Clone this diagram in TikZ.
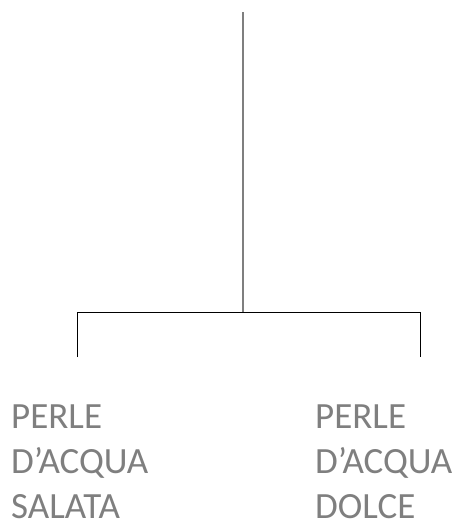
\documentclass[tikz,border=0pt]{standalone}
\usepackage{fontspec}
\setmainfont{Carlito}
\definecolor{txtgray}{HTML}{7F7F7F}
\definecolor{stemgray}{HTML}{7F7F7F}
\tikzset{
  label/.style={anchor=base west, inner sep=0pt, align=left, text=txtgray,
    font=\fontsize{37}{45}\selectfont},
  stem/.style={draw=stemgray, line width=1.3pt},
  branch/.style={draw=black, line width=1pt},
}
\begin{document}
\begin{tikzpicture}[x=1pt,y=-1pt]
\useasboundingbox (0,0) rectangle (459,520);
\coordinate (top) at (243,12);
\coordinate (hub) at (243,312.3);
\coordinate (lc) at (77.3,312.3);
\coordinate (rc) at (420,312.3);
\coordinate (le) at (77.3,357);
\coordinate (re) at (420,357);
\draw[stem] (top) -- (hub);
\draw[branch] (le) -- (lc) -- (rc) -- (re);
% multi-line node: base anchor sits on the last line's baseline
\node[label] (salata) at (11,518) {PERLE\\D’ACQUA\\SALATA};
\node[label] (dolce) at (315,518) {PERLE\\D’ACQUA\\DOLCE};
\end{tikzpicture}
\end{document}
